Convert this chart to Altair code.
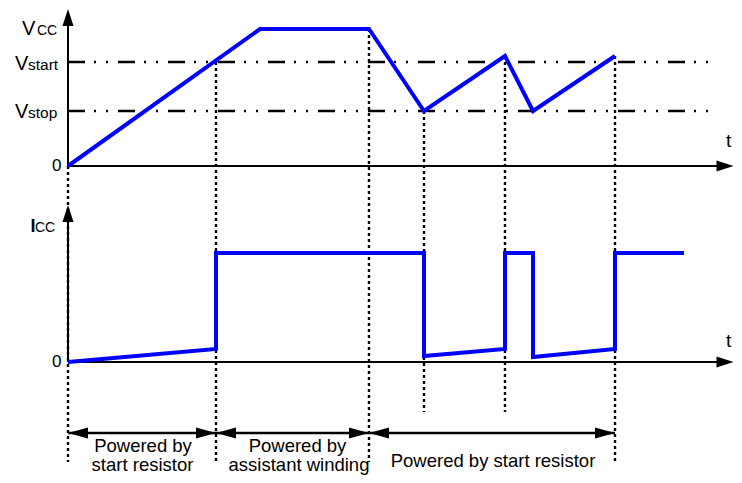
import altair as alt
import pandas as pd

# ---------------- data (time axis in arbitrary units, levels in arbitrary units) ----------------
# Vcc waveform
vcc_t = [0, 19.2, 30.1, 35.6, 43.7, 46.5, 54.7]
vcc_v = [0, 13.7, 13.7, 5.5, 11.0, 5.5, 11.0]

# Icc waveform
icc_t = [0, 14.8, 14.8, 35.6, 35.6, 43.7, 43.7, 46.5, 46.5, 54.7, 54.7, 61.6]
icc_i = [0, 1.3, 10.9, 10.9, 0.6, 1.3, 10.9, 10.9, 0.5, 1.3, 10.9, 10.9]

# threshold levels
level_names = ["Vstart", "Vstop"]
level_vals = [10.4, 5.5]
V_CC = 13.7

# switching events (vertical dotted markers)
event_t = [0, 14.8, 30.1, 35.6, 43.7, 54.7]
event_top = [0, 10.4, 13.7, 5.5, 11.0, 11.0]
event_long = [True, True, True, False, False, True]

# supply phases
phase_start = [0, 14.8, 30.1]
phase_end = [14.8, 30.1, 54.7]
phase_line1 = ["Powered by", "Powered by", "Powered by start resistor"]
phase_line2 = ["start resistor", "assistant winding", ""]

# ---------------- layout ----------------
ICC_BASE = -19.6          # baseline of the lower (Icc) trace
T_AXIS_END = 65.7         # centre of the time-axis arrowhead
LEVEL_END = 64.0          # end of dash-dot threshold lines
MARK_LONG = -29.6
MARK_SHORT = -24.6
PHASE_Y = -26.7
FONT = "Liberation Sans"

xs = alt.Scale(domain=[-6.0, 66.6], nice=False, zero=False)
ys = alt.Scale(domain=[-30.9, 15.8], nice=False, zero=False)


def X(f="t"):
    return alt.X(f"{f}:Q", scale=xs, axis=None)


def Y(f="y"):
    return alt.Y(f"{f}:Q", scale=ys, axis=None)


# dotted event markers
ev = pd.DataFrame({
    "t": event_t,
    "y": event_top,
    "y2": [MARK_LONG if l else MARK_SHORT for l in event_long],
})
markers = alt.Chart(ev).mark_rule(color="black", strokeWidth=2.4, strokeDash=[3, 3]).encode(
    x=X(), y=Y(), y2="y2:Q")

# dash-dot thresholds
lv = pd.DataFrame({"t": [0] * len(level_vals), "t2": [LEVEL_END] * len(level_vals), "y": level_vals})
levels = alt.Chart(lv).mark_rule(color="black", strokeWidth=2.5,
                                 strokeDash=[17, 9, 2, 10, 2, 10]).encode(
    x=X(), x2="t2:Q", y=Y())

# axes
ax = pd.DataFrame({
    "t": [0, 0, 0, 0],
    "t2": [0, T_AXIS_END, 0, T_AXIS_END],
    "y": [0, 0, ICC_BASE, ICC_BASE],
    "y2": [14.85, 0, -4.75, ICC_BASE],
})
axes = alt.Chart(ax).mark_rule(color="black", strokeWidth=2).encode(
    x=X(), x2="t2:Q", y=Y(), y2="y2:Q")

UP = "M0,-1L0.65,1L-0.65,1Z"
RIGHT = "M1,0L-1,-0.65L-1,0.65Z"
up_heads = alt.Chart(pd.DataFrame({"t": [0, 0], "y": [14.85, -4.75]})).mark_point(
    shape=UP, size=289, filled=True, color="black", opacity=1, strokeWidth=0).encode(x=X(), y=Y())
right_heads = alt.Chart(pd.DataFrame({"t": [T_AXIS_END, T_AXIS_END], "y": [0, ICC_BASE]})).mark_point(
    shape=RIGHT, size=289, filled=True, color="black", opacity=1, strokeWidth=0).encode(x=X(), y=Y())

# waveforms
vdf = pd.DataFrame({"t": vcc_t, "y": vcc_v, "i": range(len(vcc_t))})
vline = alt.Chart(vdf).mark_line(color="#0000FF", strokeWidth=4).encode(x=X(), y=Y(), order="i:Q")
idf = pd.DataFrame({"t": icc_t, "y": [v + ICC_BASE for v in icc_i], "i": range(len(icc_t))})
iline = alt.Chart(idf).mark_line(color="#0000FF", strokeWidth=4).encode(x=X(), y=Y(), order="i:Q")

# phase arrows
ph = pd.DataFrame({"t": phase_start, "t2": phase_end, "y": [PHASE_Y] * 3})
phase_lines = alt.Chart(ph).mark_rule(color="black", strokeWidth=2.5).encode(x=X(), x2="t2:Q", y=Y())
LEFT_H = "M-1,0L1,-0.55L1,0.55Z"
RIGHT_H = "M1,0L-1,-0.55L-1,0.55Z"
lh = alt.Chart(pd.DataFrame({"t": [s + 1.0 for s in phase_start], "y": [PHASE_Y] * 3})).mark_point(
    shape=LEFT_H, size=400, filled=True, color="black", opacity=1, strokeWidth=0).encode(x=X(), y=Y())
rh = alt.Chart(pd.DataFrame({"t": [e - 1.0 for e in phase_end], "y": [PHASE_Y] * 3})).mark_point(
    shape=RIGHT_H, size=400, filled=True, color="black", opacity=1, strokeWidth=0).encode(x=X(), y=Y())

# labels (left aligned, alphabetic baseline)
lab = pd.DataFrame({
    "text": ["V", "CC", "V", "start", "V", "stop", "0", "0", "CC", "t", "t"],
    "t": [-4.6, -3.1, -5.3, -4.0, -5.3, -4.0, -1.6, -1.6, -3.3, 65.8, 65.8],
    "y": [13.1, 13.1, 9.6, 9.6, 4.8, 4.8, -0.5, -20.1, -6.6, 1.9, -18.1],
    "s": [20, 14, 20, 15.5, 20, 15.5, 17, 17, 14, 19, 19],
})
labels = alt.Chart(lab).mark_text(align="left", baseline="alphabetic", font=FONT, color="black").encode(
    x=X(), y=Y(), text="text:N", size=alt.Size("s:Q", scale=None))
i_lab = alt.Chart(pd.DataFrame({"text": ["I"], "t": [-3.75], "y": [-6.6]})).mark_text(
    align="left", baseline="alphabetic", font=FONT, fontSize=18, fontWeight="bold", color="black").encode(
    x=X(), y=Y(), text="text:N")

# phase captions
cap = pd.DataFrame({
    "text": [phase_line1[0], phase_line2[0], phase_line1[1], phase_line2[1], phase_line1[2]],
    "t": [7.5, 7.45, 22.95, 23.1, 42.5],
    "y": [-28.6, -30.5, -28.6, -30.5, -30.1],
})
captions = alt.Chart(cap).mark_text(align="center", baseline="alphabetic", font=FONT, fontSize=18.5,
                                    color="black").encode(x=X(), y=Y(), text="text:N")

chart = alt.layer(markers, levels, axes, up_heads, right_heads, vline, iline,
                  phase_lines, lh, rh, labels, i_lab, captions).properties(
    width=726, height=467, padding=0, autosize="none", background="white"
).configure_view(stroke=None)

chart.save("out.html", embed_options={"renderer": "svg", "actions": False})
